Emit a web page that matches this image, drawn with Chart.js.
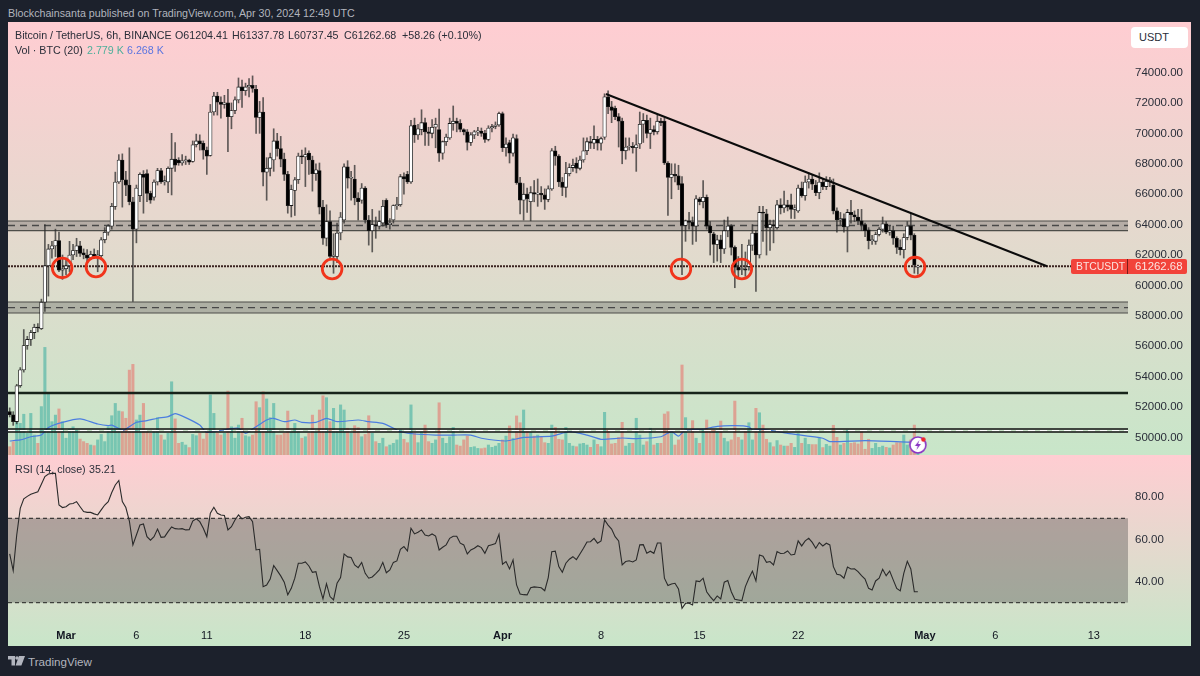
<!DOCTYPE html>
<html>
<head>
<meta charset="utf-8">
<title>BTCUSDT 6h</title>
<script src="https://cdn.jsdelivr.net/npm/chart.js@4"></script>
<style>
html, body { margin: 0; padding: 0; background: #1c212c; }
body { width: 1200px; height: 676px; position: relative; overflow: hidden; font-family: "Liberation Sans", Arial, sans-serif; }
.pane { position: absolute; left: 8px; width: 1183px; background: linear-gradient(#ffcdd2, #c8e6c9); }
.pane canvas { position: absolute; left: 0; top: 0; }
.txt { position: absolute; white-space: pre; font-size: 10.7px; line-height: 14px; color: #2a2e39; }
#published { left: 8px; top: 6px; color: #b2b5be; font-size: 10.7px; }
#usdt { position: absolute; left: 1131px; top: 27px; width: 57px; height: 21px; background: #fff; border-radius: 4px; font-size: 11px; line-height: 21px; color: #2a2e39; text-indent: 8px; }
#lastTag { position: absolute; left: 1071px; top: 259px; width: 116px; height: 15px; background: #f2433a; border-radius: 2px; color: #fbe3e0; font-size: 11.4px; line-height: 15px; }
#lastTag span { position: absolute; top: 0; }
#lastTag i { position: absolute; left: 56px; top: 0; width: 1px; height: 15px; background: #7a1c18; }
#logo { position: absolute; left: 8px; top: 656px; }
#brand { left: 28px; top: 654px; color: #b2b5be; font-size: 11.6px; line-height: 15px; }
</style>
</head>
<body>
<div class="txt" id="published">Blockchainsanta published on TradingView.com, Apr 30, 2024 12:49 UTC</div>
<div class="pane" style="top:22px;height:433px"><canvas id="priceChart" width="1183" height="433"></canvas></div>
<div class="pane" style="top:455px;height:191px"><canvas id="rsiChart" width="1183" height="191"></canvas></div>

<div class="txt" style="left:15px;top:28px">Bitcoin / TetherUS, 6h, BINANCE</div>
<div class="txt" style="left:175px;top:28px">O61204.41</div>
<div class="txt" style="left:232px;top:28px">H61337.78</div>
<div class="txt" style="left:288px;top:28px">L60737.45</div>
<div class="txt" style="left:344px;top:28px">C61262.68</div>
<div class="txt" style="left:402px;top:28px">+58.26 (+0.10%)</div>
<div class="txt" style="left:15px;top:43px">Vol · BTC (20)</div>
<div class="txt" style="left:87px;top:43px;color:#4caf9a">2.779 K</div>
<div class="txt" style="left:127px;top:43px;color:#5b75e0">6.268 K</div>
<div class="txt" style="left:15px;top:462px">RSI (14, close)</div>
<div class="txt" style="left:89px;top:462px">35.21</div>

<div id="usdt">USDT</div>
<div id="lastTag"><span style="left:5px;font-size:10.4px">BTCUSDT</span><i></i><span style="left:64px">61262.68</span></div>

<svg id="logo" width="17" height="10" viewBox="0 0 17 10"><path fill="#b2b5be" d="M0 0h7v9.5H3.5V3.5H0zM11 0h6l-3.6 9.5H7.6z"/><circle fill="#b2b5be" cx="9" cy="2" r="1.8"/></svg>
<div class="txt" id="brand">TradingView</div>

<script>
// candles, oldest first, one every 6h from Feb 26 00:00
const candleOpen = [
  51700,51500,51050,53400,54450,56050,56450,56900,57250,57150,
  58900,61300,62400,62600,62950,61000,61100,61300,62000,62300,
  62600,62150,62000,61800,62050,61950,61950,63000,63500,63900,
  65200,66800,68250,66950,66600,65500,63700,65900,67300,67350,
  66050,65800,66800,67550,66800,66800,67700,68300,68250,68050,
  68200,68250,68150,69250,69500,69350,68900,68550,71400,72450,
  72050,71900,72000,71100,71500,72200,73050,72800,73050,73150,
  72900,71050,71400,67450,67700,68250,69500,69000,68300,67300,
  65250,66250,66950,68500,68450,68700,68250,67350,67550,65150,
  63100,64200,61900,61900,63450,64300,67800,67050,67000,65750,
  65600,66400,64300,63600,64000,63900,64100,65600,64000,64300,
  65250,65300,67150,67300,66800,70550,69900,70250,70700,70100,
  70000,70400,70250,68700,69450,69700,70650,70800,70650,70250,
  70100,69400,69900,70100,70150,70000,69600,70350,70450,70550,
  71300,69050,69400,68700,69650,66750,65600,66000,65500,66100,
  66000,66050,65950,65650,66350,68850,68500,66800,66450,67350,
  67750,68050,67700,68250,68850,69450,69350,69600,69350,69750,
  72400,71750,71650,71100,70800,68850,69100,69150,69050,69300,
  70600,70850,70000,70250,70100,70800,70800,68050,67100,67300,
  67200,66700,63950,64250,64150,63900,65700,65500,65800,63900,
  63400,62700,63000,62400,63600,63900,62500,61200,61050,61100,
  61250,62650,63450,62000,64800,64700,63800,64000,63800,65300,
  65100,65300,65300,65000,64900,66400,65900,66800,67000,66600,
  66100,66800,66500,66850,66600,64900,64300,64400,63850,64800,
  64650,64500,64250,64000,63650,62950,62900,63350,63700,64050,
  63500,63600,63100,62500,62350,63150,63900,63300,61204.41];
const candleHigh = [
  51950,51700,53500,54600,57100,56650,57050,57450,57500,59100,
  64000,62700,62900,63700,63500,62000,61800,62900,62700,63100,
  62900,62400,62350,62250,62400,62300,63150,63800,64000,65400,
  67450,68600,68650,67500,69050,65800,66600,67400,67550,67600,
  66200,66950,67700,67700,67200,67800,70000,69400,68400,68600,
  68500,68300,69500,69950,69900,69500,69100,71900,72700,72700,
  72400,72500,72900,72000,72400,73640,73500,73300,73600,73777,
  73150,72100,72350,68400,68700,70300,70000,69800,68700,67500,
  66600,67100,68700,68900,69050,68850,68500,68000,68050,65600,
  65300,64900,63400,64100,64800,68000,68200,67500,67900,66100,
  66700,66500,64600,65000,64500,64900,65600,65700,64400,65300,
  65800,67300,67400,67500,70850,71000,70600,71550,71000,70400,
  70900,71000,71600,69500,69950,71000,71800,71000,70900,70300,
  70250,70050,70200,70400,70350,70200,70500,70600,70750,71400,
  71400,69700,69550,69950,69900,67100,66700,66400,66500,66900,
  67000,66500,66350,66550,69000,69150,68600,67100,68100,68000,
  68300,68400,68500,69700,69700,69800,70500,69800,69750,72600,
  72800,72100,71800,71300,71000,69700,69700,69400,69900,71400,
  71300,71200,71000,70500,71200,71000,71000,68150,68000,68000,
  67900,67150,64300,64800,64500,65900,65800,66900,65950,64200,
  63500,63300,63300,64300,64500,64000,62600,61900,62700,62200,
  63000,64000,63600,65200,65200,65000,64300,64300,65600,65700,
  66200,65600,66000,65300,66600,66800,67200,67400,67300,66900,
  67400,67000,67150,67100,67000,65100,64800,64700,65000,65600,
  64900,65000,65000,64100,63800,63300,63500,63800,64500,64200,
  63900,63900,63200,63000,63400,64200,64750,63400,61337.78];
const candleLow = [
  51350,50800,50900,53300,54300,55800,56050,56500,56950,57100,
  58300,59300,61800,61900,60900,60400,60700,60900,61700,61900,
  61900,61750,61500,61700,61800,60900,61800,62800,63300,63700,
  65000,66700,65150,65900,65300,58950,62800,65500,64750,65500,
  65400,65600,66600,66700,66600,66100,65950,67500,67900,67900,
  67950,67950,68100,69100,68900,68300,67300,68500,71200,71200,
  71000,71650,68800,70300,71300,72000,71700,72500,72400,72700,
  70000,70000,66550,65600,67200,67500,68500,67800,66900,64750,
  64500,64600,66700,68000,66500,67300,66200,66900,64700,62700,
  62600,61700,60800,61500,63000,64100,66400,65600,65300,64300,
  65400,64100,62650,62200,63100,63700,63900,63800,63700,64100,
  65000,65200,66000,66700,66700,69400,69600,69900,69200,69200,
  69700,69050,68150,68300,69200,69600,70200,70100,70100,69900,
  68900,69200,69650,69850,69800,69400,69500,70100,70300,70450,
  68800,68500,68050,68500,66650,64700,64300,64800,64250,65500,
  65200,65500,65000,65500,66250,67900,66500,65900,65800,67200,
  67500,67400,67600,68100,68600,69000,69000,68900,68900,69600,
  71300,70700,70900,69100,68000,68300,68900,68700,67500,69000,
  69400,69700,69000,69900,69950,70500,67950,64600,65700,66800,
  66300,60700,62900,63700,62700,62900,65300,65100,63700,62000,
  61500,61600,61500,62100,63200,62000,59850,60500,60700,60600,
  61000,62300,59600,61800,62900,62000,62300,62800,63700,64700,
  64800,64900,64400,64400,64800,65800,65600,66400,66300,65900,
  65700,66300,66300,66500,64700,63500,64000,63500,62200,64100,
  64200,64000,63600,63200,62400,62700,62700,63250,63500,63400,
  63300,62700,62100,62000,61800,63000,63000,60800,60737.45];
const candleClose = [
  51500,51050,53400,54450,56050,56450,56900,57250,57200,58900,
  61300,62400,62600,62950,61000,61100,61300,62000,62300,62600,
  62100,62000,61800,62050,61900,61950,63000,63500,63900,65200,
  66800,68250,66950,66600,65500,63700,66400,67300,67100,66050,
  65600,66800,67550,66800,66900,67700,68300,67900,68050,68200,
  68250,68100,69250,69500,69300,68900,68500,71400,72450,72050,
  71900,72000,71100,71500,72200,73050,72800,73050,73150,72950,
  71050,71400,67450,67700,68400,69500,69000,68300,67300,65250,
  66300,66950,68500,68450,68600,68250,67350,67600,65150,63100,
  64200,61900,62000,63450,64500,67800,67050,67100,65750,65500,
  66400,64300,63600,64000,63900,64200,65200,64000,64100,65250,
  65300,67150,67000,66800,70500,69900,70300,70700,70100,70000,
  70400,70600,68700,69450,69750,70650,70800,70650,70250,70100,
  69400,69900,70100,70150,70000,69600,70350,70450,70550,71300,
  69050,69300,68700,69700,66750,65600,66000,65700,66100,66000,
  66050,65950,65650,66350,68850,68500,66800,66450,67350,67750,
  67900,67700,68250,68850,69450,69350,69600,69350,69650,72400,
  71750,71500,71100,70800,68850,69100,69150,69050,69250,70600,
  70850,70000,70250,70100,70800,70700,68050,67100,67300,67200,
  66600,63950,64250,64150,63900,65700,65500,65800,63900,63450,
  62700,63000,62400,63600,63900,62500,61200,61000,61100,61000,
  62650,63450,62000,64800,64750,63800,64000,63900,65300,65100,
  65300,65150,65000,65100,66400,65900,66800,67000,66650,66100,
  66800,66500,66850,66950,64900,64300,64400,63850,64800,64650,
  64500,64250,64000,63600,62950,63000,63350,63700,64050,63500,
  63600,63100,62500,62350,63150,63900,63300,61350,61262.68];

// volume in thousands of BTC
const volumeK = [
  3.9,6.3,15.7,14.9,19.2,10.2,19.6,9.4,5.5,22.8,
  50.7,29,15.7,18.8,21.7,15.7,7.9,12.2,13.3,11.8,
  7.5,6.3,5.5,4.7,4.4,7.1,9.7,6.3,13.3,18.5,
  24.3,20.7,20.4,17.3,40,42.7,16.5,18.8,24.3,11,
  10.2,11,17.6,9.4,7.1,10.2,34.5,17,5.5,6,
  4.7,3.5,9.7,9.1,10.2,7.5,11,28.3,19.6,10.2,
  9.4,10.2,30.1,13.3,7.9,14.1,17.3,9.1,8.6,9.4,
  25.1,22.3,29.8,26.4,17.6,24.3,9.4,9.4,10.2,20.7,
  11,14.9,11.8,7.9,8.6,10.2,18.8,10.7,21.2,27.9,
  27,15.7,22,11.8,23.6,21.2,12.6,10.2,13.8,12.9,
  8.6,9.7,18.5,10.2,6.3,5.5,7.9,3.9,4.7,5.5,
  7.1,11.8,7.4,5.8,23.6,10.2,5.8,11,14.1,6.3,
  5.5,7.1,24.6,7.9,5.5,8.6,13,4.7,4.2,7.1,
  8.9,3.6,3.9,3.1,3,3.3,4.7,3.6,4.2,5.5,
  7.1,8.9,13.7,7.9,18.4,15.2,21.2,11.8,10.5,8.9,
  9.4,8.6,5.8,5.5,14.1,13,7.4,7.1,13,5.5,
  4.2,3.9,5.2,5.5,4.7,3.6,7.1,5,3.9,20.1,
  11.8,5.2,5.5,8.3,15.4,4.2,5.5,5.5,17.3,9.4,
  4.7,6.3,12.6,4.7,5.5,5.5,19.3,20.4,11,4.7,
  7.1,42.4,17.6,10.2,16.2,7.9,5.5,11.8,16.5,11.8,
  11.8,11.8,16,7.9,6.3,7.1,25.4,8.3,7.1,11.8,
  15.2,7.1,22,19.9,14.1,7.4,5.8,3.9,6.8,4.7,
  4.2,4.2,5.5,3.6,10.2,5.5,7.9,5,4.9,4.9,
  7.9,3.5,5,4.2,14,8.3,4.7,5.5,11.8,5.5,
  5.8,5.2,11,2.7,7.4,3.1,5.5,3.6,4.2,3.6,
  3.3,4.7,5.8,5.8,9.4,4.7,7.1,14.1,2.779];

// volume average line, read at these candles
const volMaIndex = [0,3,6,9,11,15,20,25,28,29,32,33,36,39,42,45,47,50,54,56,62,65,67,69,73,75,78,81,83,87,90,93,99,102,106,110,
  111,115,121,126,131,134,141,146,154,159,164,168,174,178,185,188,190,192,197,201,206,210,211,214,221,231,233,243,255,258];
const volMaK = [6.6,7.1,8.6,9.4,13,15.4,17,14.6,13.8,14.1,11.8,12.2,15.4,16.2,17.3,18.1,19.5,17.6,14.1,10.7,12.2,12.6,10.2,12.2,16.5,17.3,15.7,16.5,15.4,15.4,17.3,15.7,16.5,15.7,14.9,11.8,
  11,9.9,9.4,9.4,9.4,7.9,6.6,8.3,8.9,11,9.4,7.4,8,7.7,8.6,11,8.9,11.8,12.2,13.5,13.8,13.3,11.8,12.1,10.2,7.9,6.3,6.8,6.1,6.268];

const rsiValues = [
  53.1,45.2,62.1,74.7,79.2,80.4,81.4,82,82.6,86.1,
  89.8,91,91.3,91.3,76.3,75.1,75.5,76.8,77,77.9,
  75.5,73.2,72.8,72.8,72.1,71.6,74,76.3,77.9,82.2,
  85.8,87.9,77.9,75.1,68.7,57.4,62.1,66.8,67.3,61.3,
  59.6,61.3,64.9,61,61.2,63.7,65.9,65.1,64.9,65.1,
  64.5,64.6,68.7,69.8,68.4,65.3,61.3,72.4,75.2,72.4,
  71.6,71.3,64.5,66,69.2,71.6,69.7,70.5,70.8,68.4,
  55,55.3,37.6,38.4,41.2,47.6,45.2,42.7,39.7,33.7,
  36.8,41.6,48.7,48.7,49.3,47.4,44.4,44.7,37.6,31.8,
  39,32.9,31.3,39.2,41.9,53.1,51.7,51.4,47.9,46.6,
  49.1,43.9,41.6,42.2,43.8,45.5,49.1,44.2,45.5,49.1,
  49.8,55.3,56.6,54.5,65.3,62.6,63.4,64.5,62.1,61.6,
  62.6,61.6,55,56.3,57.4,60.5,61.5,61.5,58.2,57.4,
  53.1,55,55.8,57,56.1,53.4,57,57.5,58,62.4,
  48.2,49.5,46,50.3,38.4,34.1,33.8,33.7,37.1,37.5,
  37.3,37.1,35.7,41.9,54.2,54.4,47.1,44.4,48.7,50.6,
  51.8,50.4,53.1,55.8,58.8,58.9,60.5,58.2,59.3,69.2,
  66.8,64.9,61.3,59.3,47.9,49.5,49.9,49.3,50.3,57.4,
  57.5,53.4,54.4,53.4,58.3,58.3,41.6,38.1,38.9,39.2,
  36.5,27.3,29.7,29.7,28.9,40.3,40,41.6,35.2,32.9,
  31,33.2,31.8,39.7,40.5,35.2,31.6,31.3,31,37.6,
  41.6,45,40.3,52.6,52,49.1,49.5,47.9,54.2,53.3,
  53.4,54.5,52.6,52.9,59.3,56.9,59.3,60.5,58.6,55.8,
  58.5,56.9,58.2,57.4,47.1,43.5,43.1,41.6,46.9,46,
  46.1,44.7,42.8,41.2,36.8,36,40.3,41.6,45.8,42.8,
  45,40.8,36.8,35.6,43.9,49.6,46,35.2,35.21];

const priceTicks = [50000,52000,54000,56000,58000,60000,62000,64000,66000,68000,70000,72000,74000];
const rsiTicks = [40,60,80];
const rsiBounds = [70,30];
const dateTickIndex = [16,36,56,84,112,140,168,196,224,260,280,308];
const dateTickLabels = ['Mar','6','11','18','25','Apr','8','15','22','May','6','13'];
const monthLabels = ['Mar','Apr','May'];

// drawings on the price pane
const bandUpper = [64237,58911,50560];
const bandMiddle = [63941,58536,50460];
const bandLower = [63599,58188,50365];
const lastPrice = 61262.68;
const flatLine = 52930;
const trendIndex = [169.4,294.7];
const trendPrice = [72590,61263];
const circleIndex = [14.9,24.5,91.6,190.7,208,257.2];
const circlePrice = [61150,61210,61080,61080,61080,61210];
const alertIndex = [258];
const alertPrice = [49510];

const xMin = -0.48, xMax = 317.7;
const plotEnds = [xMin, xMax];
const tickColor = '#2a2e39';
const rowFont = { family: 'Liberation Sans', size: 11.5 };

function hLine(value, color, width, dash) {
  return { type: 'line', yAxisID: 'y', order: 4, data: plotEnds.map(x => ({ x: x, y: value })), borderColor: color, borderWidth: width, borderDash: dash || [], pointRadius: 0, fill: false };
}

function noPadding(s) {
  s.paddingTop = 0; s.paddingBottom = 0; s.paddingLeft = 0; s.paddingRight = 0;
}

function priceScale(min, max, ticks) {
  return {
    position: 'right', min: min, max: max, border: { display: false }, grid: { display: false, drawTicks: false },
    afterFit: s => { s.width = 63; noPadding(s); },
    afterBuildTicks: s => { s.ticks = ticks.map(v => ({ value: v })); },
    ticks: { autoSkip: false, padding: 7, color: tickColor, font: rowFont, callback: v => v.toFixed(2) }
  };
}

const isUp = i => candleClose[i] >= candleOpen[i];

const candleWicks = candleHigh.map((h, i) => ({ x: i, y: [candleLow[i], h] }));
const candleBodies = candleOpen.map((o, i) => ({ x: i, y: [o, candleClose[i]] }));
const volumeBars = volumeK.map((v, i) => ({ x: i, y: v }));

const datasets = [
  { type: 'bar', yAxisID: 'vol', order: 6, grouped: false, barThickness: 2.4, data: volumeBars,
    backgroundColor: volumeK.map((v, i) => isUp(i) ? 'rgba(38,166,154,0.5)' : 'rgba(239,83,80,0.45)') },
  { type: 'line', yAxisID: 'vol', order: 5, data: volMaIndex.map((x, i) => ({ x: x, y: volMaK[i] })), borderColor: '#4b7de0', borderWidth: 1.2, pointRadius: 0, tension: 0.2 },
  hLine(lastPrice, '#3a2320', 2, [2, 1]),
  hLine(flatLine, '#17231a', 2.4)
];
for (let b = 0; b < bandUpper.length; b++) {
  const slim = b === 2;
  datasets.push({ type: 'line', yAxisID: 'y', order: 4, data: plotEnds.map(x => ({ x: x, y: bandUpper[b] })), borderColor: slim ? '#111' : '#4d4d48', borderWidth: slim ? 1.6 : 1.2, pointRadius: 0,
    fill: slim ? false : { target: { value: bandLower[b] }, above: 'rgba(80,80,80,0.32)', below: 'rgba(80,80,80,0.32)' } });
  datasets.push(hLine(bandLower[b], slim ? '#111' : '#4d4d48', slim ? 1.6 : 1.2));
  datasets.push(hLine(bandMiddle[b], slim ? '#fff' : '#444', slim ? 1.2 : 1.3, [7, 5]));
}
datasets.push(
  { type: 'bar', yAxisID: 'y', order: 3, grouped: false, barThickness: 1, data: candleWicks, backgroundColor: 'rgba(45,45,45,0.75)' },
  { type: 'bar', yAxisID: 'y', order: 2, grouped: false, barThickness: 3.5, minBarLength: 1, data: candleBodies, borderWidth: 0.8, borderSkipped: false,
    borderColor: '#1a1a1a', backgroundColor: candleOpen.map((o, i) => isUp(i) ? '#fff' : '#000') },
  { type: 'line', yAxisID: 'y', order: 1, data: trendIndex.map((x, i) => ({ x: x, y: trendPrice[i] })), borderColor: '#0b0b0b', borderWidth: 2, pointRadius: 0 },
  { type: 'line', yAxisID: 'y', order: 0, showLine: false, data: circleIndex.map((x, i) => ({ x: x, y: circlePrice[i] })), pointRadius: 9.8, pointBorderWidth: 2.8, pointBorderColor: '#f1341b', pointBackgroundColor: 'rgba(0,0,0,0)' },
  { type: 'line', yAxisID: 'y', order: 0, showLine: false, data: alertIndex.map((x, i) => ({ x: x, y: alertPrice[i] })), pointRadius: 9, pointStyle: alertIcon() }
);

function alertIcon() {
  const c = document.createElement('canvas');
  c.width = 22; c.height = 22;
  const g = c.getContext('2d');
  g.beginPath(); g.arc(11, 11, 8, 0, Math.PI * 2);
  g.fillStyle = '#fff'; g.fill();
  g.lineWidth = 1.6; g.strokeStyle = '#8a35c4'; g.stroke();
  g.beginPath();
  g.moveTo(12.5, 6); g.lineTo(8, 12); g.lineTo(10.8, 12); g.lineTo(9.5, 16); g.lineTo(14, 10); g.lineTo(11.2, 10); g.closePath();
  g.fillStyle = '#8a35c4'; g.fill();
  g.beginPath(); g.arc(16.5, 5.5, 2.2, 0, Math.PI * 2);
  g.fillStyle = '#f0262d'; g.fill();
  return c;
}

const baseOptions = {
  responsive: false, animation: false, events: [],
  layout: { padding: 0, autoPadding: false },
  plugins: { legend: { display: false }, tooltip: { enabled: false } }
};

new Chart(document.getElementById('priceChart'), {
  data: { datasets: datasets },
  options: Object.assign({}, baseOptions, {
    scales: {
      x: { type: 'linear', min: xMin, max: xMax, offset: false, display: false, ticks: { display: false }, afterFit: noPadding },
      y: priceScale(48852, 77320, priceTicks),
      vol: { display: false, min: 0, max: 204, ticks: { display: false }, afterFit: noPadding }
    }
  })
});

new Chart(document.getElementById('rsiChart'), {
  type: 'line',
  data: { datasets: [
    { order: 2, data: plotEnds.map(x => ({ x: x, y: rsiBounds[0] })), borderColor: '#1a1a1a', borderWidth: 1, borderDash: [4, 3], pointRadius: 0,
      fill: { target: { value: rsiBounds[1] }, above: 'rgba(70,70,70,0.37)' } },
    { order: 2, data: plotEnds.map(x => ({ x: x, y: rsiBounds[1] })), borderColor: '#1a1a1a', borderWidth: 1, borderDash: [4, 3], pointRadius: 0 },
    { order: 1, data: rsiValues.map((v, i) => ({ x: i, y: v })), borderColor: '#2a2a2a', borderWidth: 1.1, pointRadius: 0 }
  ] },
  options: Object.assign({}, baseOptions, {
    scales: {
      x: {
        type: 'linear', min: xMin, max: xMax, offset: false, border: { display: false }, grid: { display: false, drawTicks: false },
        afterFit: s => { s.height = 22; noPadding(s); },
        afterBuildTicks: s => { s.ticks = dateTickIndex.map(v => ({ value: v })); },
        ticks: {
          autoSkip: false, maxRotation: 0, padding: 5, color: '#131722',
          font: c => ({ family: 'Liberation Sans', size: 11, weight: monthLabels.includes(dateTickLabels[c.index]) ? 'bold' : 'normal' }),
          callback: (v, i) => dateTickLabels[i]
        }
      },
      y: priceScale(19.9, 100, rsiTicks)
    }
  })
});
</script>
</body>
</html>
